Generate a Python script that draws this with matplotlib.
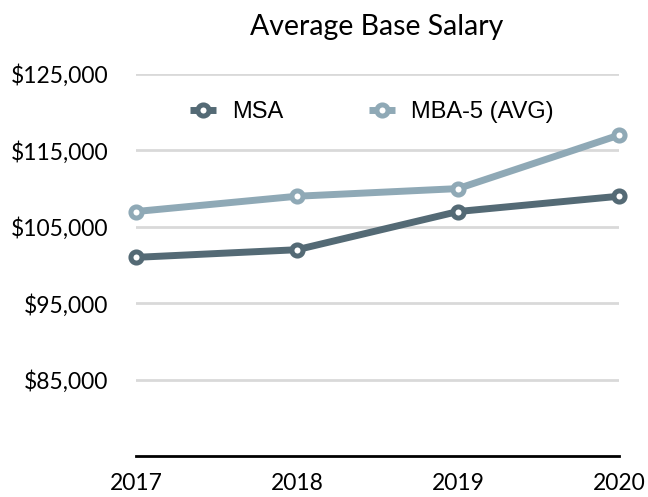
import matplotlib
matplotlib.use("Agg")
import matplotlib.pyplot as plt
from matplotlib.ticker import FuncFormatter

years = ["2017", "2018", "2019", "2020"]
msa = [101000, 102000, 107000, 109000]
mba = [107000, 109000, 110000, 117000]
yticks = [85000, 95000, 105000, 115000, 125000]

c_msa = "#546a75"
c_mba = "#8fa9b6"

fig = plt.figure(figsize=(6.48, 4.97), dpi=100)
ax = fig.add_axes([136/648, 1-456/497, (619-136)/648, (456-74)/497])

x = list(range(len(years)))
for vals, c, lab in [(msa, c_msa, "MSA"), (mba, c_mba, "MBA-5 (AVG)")]:
    ax.plot(x, vals, color=c, lw=5, marker="o", ms=8, mfc="white", mec=c, mew=3.6,
            label=lab, clip_on=False, zorder=3, solid_capstyle="butt")

ax.set_xlim(0, 3)
ax.set_ylim(75000, 125000)
ax.set_yticks(yticks)
ax.yaxis.set_major_formatter(FuncFormatter(lambda v, p: "${:,.0f}".format(v)))
ax.set_xticks(x)
ax.set_xticklabels(years)
ax.grid(axis="y", color="#d9d9d9", lw=2)
ax.set_axisbelow(True)
for s in ["top", "right", "left"]:
    ax.spines[s].set_visible(False)
ax.spines["bottom"].set_linewidth(2)
ax.spines["bottom"].set_color("black")
ax.tick_params(length=0)
for t in ax.get_yticklabels() + ax.get_xticklabels():
    t.set_fontfamily(["Lato", "DejaVu Sans"])
    t.set_fontsize(16.5)
ax.tick_params(axis="y", pad=20)
ax.tick_params(axis="x", pad=12)

fig.text(377/648, 1-27/497, "Average Base Salary", ha="center", va="center",
         fontsize=20.5, family=["Lato", "DejaVu Sans"])

leg = ax.legend(loc="center", bbox_to_anchor=((372-136)/(619-136), (456-112)/(456-74)),
                ncol=2, frameon=False, handlelength=1.1, columnspacing=3.6,
                handletextpad=0.7, prop=dict(family="Liberation Sans", size=17))

fig.savefig("out.png", dpi=100)
